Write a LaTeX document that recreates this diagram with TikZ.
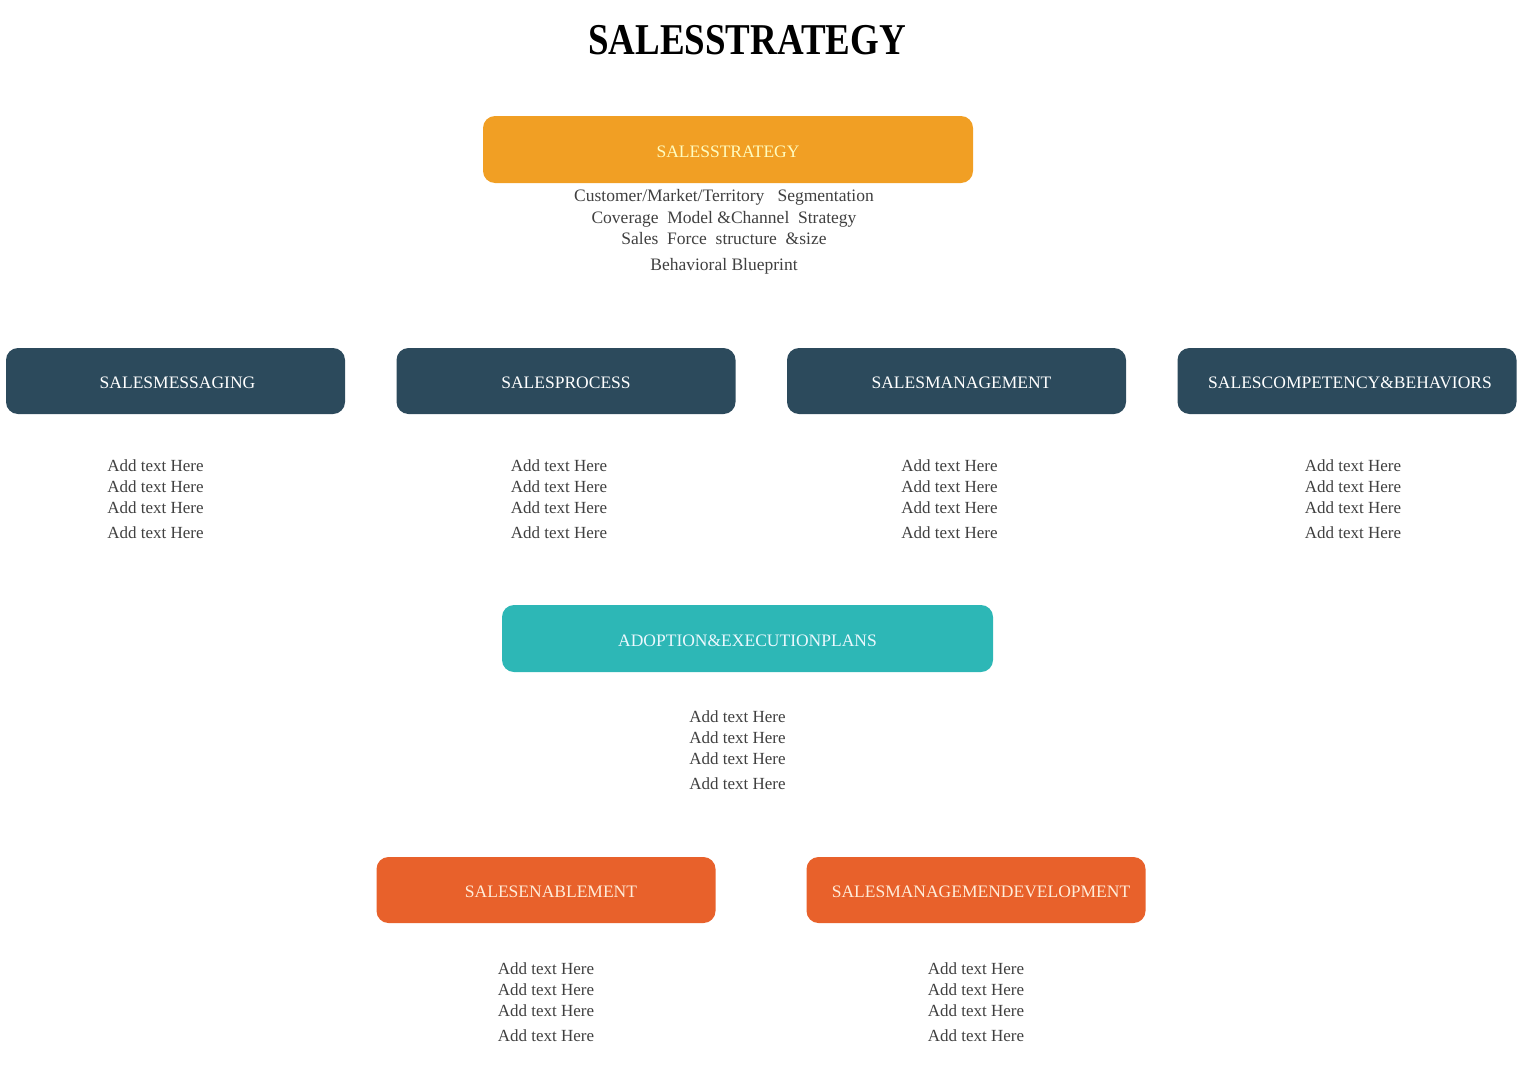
\documentclass[tikz,border=0pt]{standalone}
\usepackage{fontspec}
\setmainfont{Liberation Serif}
\usetikzlibrary{positioning}
\definecolor{stratorange}{HTML}{F19F24}
\definecolor{navyblue}{HTML}{2C4A5C}
\definecolor{adoptteal}{HTML}{2DB7B6}
\definecolor{enableorange}{HTML}{E8612B}
\definecolor{bodygray}{HTML}{404040}
\newcommand{\addlines}{Add text Here\\Add text Here\\Add text Here\\[4pt]Add text Here}

\begin{document}
\begin{tikzpicture}[x=1pt,y=-1pt,node distance=40pt]
  \tikzstyle{box}=[rounded corners=12pt,minimum width=339pt,minimum height=66pt,inner sep=0pt,
                   text height=15pt,text depth=0pt,font=\fontsize{17.5}{20}\selectfont]
  \tikzstyle{items}=[inner sep=0pt,align=center,text=bodygray,font=\fontsize{17}{21}\selectfont]

  \useasboundingbox (0,0) rectangle (1520,1065);

  \node (title) at (747,40) {\scalebox{0.84}[1]{\fontsize{44}{48}\selectfont\bfseries SALESSTRATEGY}};

  % top box
  \node[box,fill=stratorange,text=yellow!25,minimum width=490pt,minimum height=67pt] (strat) at (728,149.5) {SALESSTRATEGY};
  \node[items,below=6pt of strat,xshift=-4pt,font=\fontsize{17.5}{21.5}\selectfont] (stratitems)
    {Customer/Market/Territory\ \ \ Segmentation\\Coverage\ \ Model \&Channel\ \ Strategy\\Sales\ \ Force\ \ structure\ \ \&size\\[4pt]Behavioral Blueprint};

  % second row
  \node[box,fill=navyblue,text=white] (msg)  at (175.5,381) {\hspace*{4pt}SALESMESSAGING};
  \node[box,fill=navyblue,text=white] (proc) at (566,381)   {SALESPROCESS};
  \node[box,fill=navyblue,text=white] (mgmt) at (956.5,381) {\hspace*{10pt}SALESMANAGEMENT};
  \node[box,fill=navyblue,text=white] (comp) at (1347,381)  {\hspace*{6pt}SALESCOMPETENCY\&BEHAVIORS};

  \node[items,below=45pt of msg,xshift=-20pt] (msgitems)  {\addlines};
  \node[items,below=45pt of proc,xshift=-7pt] (procitems) {\addlines};
  \node[items,below=45pt of mgmt,xshift=-7pt] (mgmtitems) {\addlines};
  \node[items,below=45pt of comp,xshift=6pt]  (compitems) {\addlines};

  % adoption
  \node[box,fill=adoptteal,text=cyan!8,minimum width=491pt,minimum height=67pt] (adopt) at (747.5,638.5) {ADOPTION\&EXECUTIONPLANS};
  \node[items,below=38pt of adopt,xshift=-10pt] (adoptitems) {\addlines};

  % bottom row
  \node[box,fill=enableorange,text=orange!15] (enable) at (546,890) {\hspace*{10pt}SALESENABLEMENT};
  \node[box,fill=enableorange,text=orange!15] (dev)    at (976,890) {\hspace*{10pt}SALESMANAGEMENDEVELOPMENT};

  \node[items,below=39pt of enable] (enableitems) {\addlines};
  \node[items,below=39pt of dev]    (devitems)    {\addlines};
\end{tikzpicture}
\end{document}
